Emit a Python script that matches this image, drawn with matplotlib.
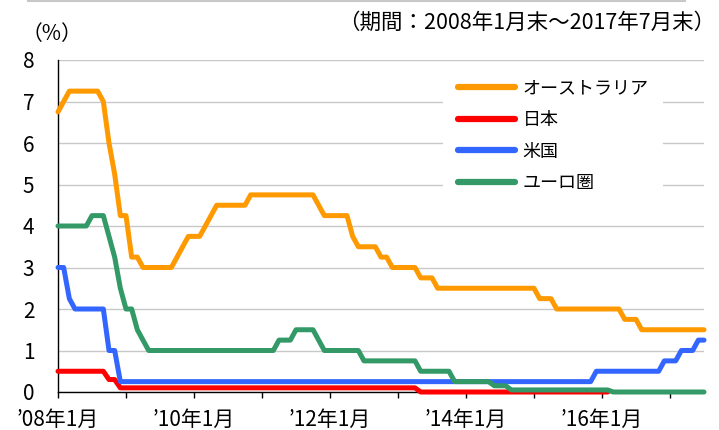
import numpy as np
import matplotlib
matplotlib.use("Agg")
import matplotlib.pyplot as plt
from matplotlib.lines import Line2D

plt.rcParams["font.family"] = ["Noto Sans CJK JP", "DejaVu Sans"]

# monthly policy rates, 2008-01 .. 2017-07 (month end, %)
australia = [
    6.75, 7.00, 7.25, 7.25, 7.25, 7.25, 7.25, 7.25, 7.00, 6.00, 5.25, 4.25,  # 2008
    4.25, 3.25, 3.25, 3.00, 3.00, 3.00, 3.00, 3.00, 3.00, 3.25, 3.50, 3.75,  # 2009
    3.75, 3.75, 4.00, 4.25, 4.50, 4.50, 4.50, 4.50, 4.50, 4.50, 4.75, 4.75,  # 2010
    4.75, 4.75, 4.75, 4.75, 4.75, 4.75, 4.75, 4.75, 4.75, 4.75, 4.50, 4.25,  # 2011
    4.25, 4.25, 4.25, 4.25, 3.75, 3.50, 3.50, 3.50, 3.50, 3.25, 3.25, 3.00,  # 2012
    3.00, 3.00, 3.00, 3.00, 2.75, 2.75, 2.75, 2.50, 2.50, 2.50, 2.50, 2.50,  # 2013
    2.50, 2.50, 2.50, 2.50, 2.50, 2.50, 2.50, 2.50, 2.50, 2.50, 2.50, 2.50,  # 2014
    2.50, 2.25, 2.25, 2.25, 2.00, 2.00, 2.00, 2.00, 2.00, 2.00, 2.00, 2.00,  # 2015
    2.00, 2.00, 2.00, 2.00, 1.75, 1.75, 1.75, 1.50, 1.50, 1.50, 1.50, 1.50,  # 2016
    1.50, 1.50, 1.50, 1.50, 1.50, 1.50, 1.50,                                # 2017
]
# Japan line stops in Feb 2016 (goes negative, below the axis)
japan = [
    0.50, 0.50, 0.50, 0.50, 0.50, 0.50, 0.50, 0.50, 0.50, 0.30, 0.30, 0.10,
    0.10, 0.10, 0.10, 0.10, 0.10, 0.10, 0.10, 0.10, 0.10, 0.10, 0.10, 0.10,
    0.10, 0.10, 0.10, 0.10, 0.10, 0.10, 0.10, 0.10, 0.10, 0.10, 0.10, 0.10,
    0.10, 0.10, 0.10, 0.10, 0.10, 0.10, 0.10, 0.10, 0.10, 0.10, 0.10, 0.10,
    0.10, 0.10, 0.10, 0.10, 0.10, 0.10, 0.10, 0.10, 0.10, 0.10, 0.10, 0.10,
    0.10, 0.10, 0.10, 0.10, 0.00, 0.00, 0.00, 0.00, 0.00, 0.00, 0.00, 0.00,
    0.00, 0.00, 0.00, 0.00, 0.00, 0.00, 0.00, 0.00, 0.00, 0.00, 0.00, 0.00,
    0.00, 0.00, 0.00, 0.00, 0.00, 0.00, 0.00, 0.00, 0.00, 0.00, 0.00, 0.00,
    0.00, 0.00,
]
us = [
    3.00, 3.00, 2.25, 2.00, 2.00, 2.00, 2.00, 2.00, 2.00, 1.00, 1.00, 0.25,
    0.25, 0.25, 0.25, 0.25, 0.25, 0.25, 0.25, 0.25, 0.25, 0.25, 0.25, 0.25,
    0.25, 0.25, 0.25, 0.25, 0.25, 0.25, 0.25, 0.25, 0.25, 0.25, 0.25, 0.25,
    0.25, 0.25, 0.25, 0.25, 0.25, 0.25, 0.25, 0.25, 0.25, 0.25, 0.25, 0.25,
    0.25, 0.25, 0.25, 0.25, 0.25, 0.25, 0.25, 0.25, 0.25, 0.25, 0.25, 0.25,
    0.25, 0.25, 0.25, 0.25, 0.25, 0.25, 0.25, 0.25, 0.25, 0.25, 0.25, 0.25,
    0.25, 0.25, 0.25, 0.25, 0.25, 0.25, 0.25, 0.25, 0.25, 0.25, 0.25, 0.25,
    0.25, 0.25, 0.25, 0.25, 0.25, 0.25, 0.25, 0.25, 0.25, 0.25, 0.25, 0.50,
    0.50, 0.50, 0.50, 0.50, 0.50, 0.50, 0.50, 0.50, 0.50, 0.50, 0.50, 0.75,
    0.75, 0.75, 1.00, 1.00, 1.00, 1.25, 1.25,
]
euro = [
    4.00, 4.00, 4.00, 4.00, 4.00, 4.00, 4.25, 4.25, 4.25, 3.75, 3.25, 2.50,
    2.00, 2.00, 1.50, 1.25, 1.00, 1.00, 1.00, 1.00, 1.00, 1.00, 1.00, 1.00,
    1.00, 1.00, 1.00, 1.00, 1.00, 1.00, 1.00, 1.00, 1.00, 1.00, 1.00, 1.00,
    1.00, 1.00, 1.00, 1.25, 1.25, 1.25, 1.50, 1.50, 1.50, 1.50, 1.25, 1.00,
    1.00, 1.00, 1.00, 1.00, 1.00, 1.00, 0.75, 0.75, 0.75, 0.75, 0.75, 0.75,
    0.75, 0.75, 0.75, 0.75, 0.50, 0.50, 0.50, 0.50, 0.50, 0.50, 0.25, 0.25,
    0.25, 0.25, 0.25, 0.25, 0.25, 0.15, 0.15, 0.15, 0.05, 0.05, 0.05, 0.05,
    0.05, 0.05, 0.05, 0.05, 0.05, 0.05, 0.05, 0.05, 0.05, 0.05, 0.05, 0.05,
    0.05, 0.05, 0.00, 0.00, 0.00, 0.00, 0.00, 0.00, 0.00, 0.00, 0.00, 0.00,
    0.00, 0.00, 0.00, 0.00, 0.00, 0.00, 0.00,
]

labels = ["オーストラリア", "日本", "米国", "ユーロ圏"]
colors = ["#FF9900", "#FF0000", "#3366FF", "#339966"]
tick_labels = ["’08年1月", "’10年1月", "’12年1月", "’14年1月", "’16年1月"]

x = np.arange(len(australia))

fig = plt.figure(figsize=(7.19, 4.30), dpi=100)
ax = fig.add_axes([58 / 719, 38 / 430, 646 / 719, 332 / 430])

for series, lab, col in zip([australia, japan, us, euro], labels, colors):
    ax.plot(x[:len(series)], series, color=col, lw=3.6, label=lab, zorder=3,
            clip_on=False, solid_capstyle="round", solid_joinstyle="round")

ax.set_xlim(0, len(australia) - 1)
ax.set_ylim(0, 8)
ax.set_yticks(range(0, 9))
ax.yaxis.grid(True, color="#C8C8C8", lw=1)
ax.set_axisbelow(True)
ax.tick_params(axis="y", length=0, pad=17, labelsize=15)

ax.set_xticks(range(0, len(australia), 12))
ax.set_xticklabels([tick_labels[i // 2] if i % 2 == 0 else "" for i in range(10)])
ax.tick_params(axis="x", length=4, width=1, pad=8, labelsize=15, direction="out")

for s in ["top", "right"]:
    ax.spines[s].set_visible(False)
for s in ["left", "bottom"]:
    ax.spines[s].set_color("black")
    ax.spines[s].set_linewidth(1)

leg = ax.legend(loc="center", bbox_to_anchor=(553 / 719, 1 - 136 / 430),
                bbox_transform=fig.transFigure, fontsize=13, frameon=True,
                fancybox=False, edgecolor="none", facecolor="white", framealpha=1,
                handlelength=3.2, handletextpad=0.4, labelspacing=0.75,
                borderpad=0.8, borderaxespad=0)
for h in leg.get_lines():
    h.set_linewidth(4.5)
    h.set_solid_capstyle("round")

fig.text(22 / 719, 1 - 34 / 430, "（%）", fontsize=15, ha="left", va="center")
fig.text(715 / 719, 1 - 23 / 430, "（期間：2008年1月末～2017年7月末）", fontsize=15.5,
         ha="right", va="center")
fig.add_artist(Line2D([28 / 719, 685 / 719], [1 - 0.6 / 430, 1 - 0.6 / 430],
                      transform=fig.transFigure, color="#C8C8C8", lw=1.5))

fig.savefig("out.png", dpi=100)
